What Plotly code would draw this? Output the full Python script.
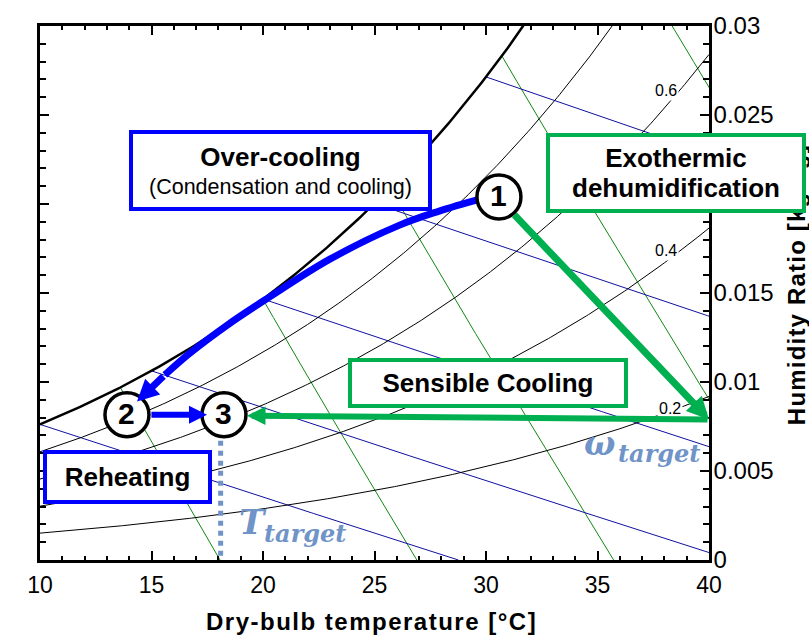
import numpy as np
import plotly.graph_objects as go

# ---------------- data ----------------
P_ATM = 101.325                      # kPa
rh_levels = [0.2, 0.4, 0.6, 0.8]     # relative humidity lines
rh_label_text = ["0.2", "0.4", "0.6"]
wb_levels = [10, 15, 20, 25, 30]     # wet-bulb lines [degC]
v_levels = [0.825, 0.85, 0.875, 0.9, 0.925]  # specific volume lines [m3/kg]

x_tick_vals = [10, 15, 20, 25, 30, 35, 40]
x_tick_text = ["10", "15", "20", "25", "30", "35", "40"]
y_tick_vals = [0, 0.005, 0.01, 0.015, 0.02, 0.025, 0.03]
y_tick_text = ["0", "0.005", "0.01", "0.015", "0.02", "0.025", "0.03"]

state_labels = ["1", "2", "3"]
state_T = [30.58, 13.90, 18.25]
state_W = [0.0204, 0.00816, 0.00816]

overcool_T = [29.8, 27.9, 26.1, 23.0, 20.2, 18.4, 16.7, 15.6]
overcool_W = [0.0203, 0.0196, 0.0188, 0.0169, 0.0147, 0.0132, 0.0116, 0.0104]
overcool_tip = (14.35, 0.0089)

dehum_start = (31.21, 0.01947)
dehum_end = (40.0, 0.0079)
sensible_start = (40.0, 0.00789)
sensible_end = (19.28, 0.00811)
reheat_start = (14.93, 0.00816)
reheat_end = (17.49, 0.00816)

T_target = 18.1
T_target_W = [0.0067, 0.0]

# ---------------- psychrometrics ----------------
def p_sat(T):
    return 0.61094 * np.exp(17.625 * T / (T + 243.04))

def w_from_pv(pv):
    return 0.621945 * pv / (P_ATM - pv)

T_grid = np.linspace(10, 40, 301)

BLUE = "#0000FF"
GREEN = "#00B050"
LBLUE = "#7094C8"
FONT = "Liberation Sans, Arial, sans-serif"
SERIF = "DejaVu Serif, serif"

fig = go.Figure()

# specific volume lines (green)
for v in v_levels:
    w = np.linspace(0, 0.03, 1500)
    T = v * P_ATM / (0.287042 * (1 + 1.6078 * w)) - 273.15
    mask = w <= w_from_pv(p_sat(T))
    fig.add_trace(go.Scatter(x=T[mask], y=w[mask], mode="lines",
                             line=dict(color="#118811", width=1), hoverinfo="skip"))

# wet-bulb lines (blue)
for twb in wb_levels:
    ws = w_from_pv(p_sat(twb))
    t_end = min(40.0, twb + (2501 - 2.326 * twb) * ws / 1.006)
    T = np.linspace(max(twb, 10), t_end, 200)
    w = ((2501 - 2.326 * twb) * ws - 1.006 * (T - twb)) / (2501 + 1.86 * T - 4.186 * twb)
    fig.add_trace(go.Scatter(x=T, y=w, mode="lines",
                             line=dict(color="#1010A0", width=1), hoverinfo="skip"))

# relative humidity lines
for rh in rh_levels:
    fig.add_trace(go.Scatter(x=T_grid, y=w_from_pv(rh * p_sat(T_grid)), mode="lines",
                             line=dict(color="black", width=1), hoverinfo="skip"))
# saturation
fig.add_trace(go.Scatter(x=T_grid, y=w_from_pv(p_sat(T_grid)), mode="lines",
                         line=dict(color="black", width=2.5), hoverinfo="skip"))

# T target dotted line
fig.add_trace(go.Scatter(x=[T_target, T_target], y=T_target_W, mode="lines",
                         line=dict(color=LBLUE, width=5, dash="dot"), hoverinfo="skip"))

# over-cooling curve
fig.add_trace(go.Scatter(x=overcool_T, y=overcool_W, mode="lines",
                         line=dict(color=BLUE, width=7, shape="spline"), hoverinfo="skip"))

def px(x):
    return (x - 40) / 669.0

def py(y):
    return (560 - y) / 544.0

ann = []
# right axis title (drawn first so boxes cover it)
ann.append(dict(x=px(796), y=py(280), xref="paper", yref="paper", showarrow=False,
                text="<b><span style='letter-spacing:1.2px'>Humidity Ratio [kg/kg]</span></b>",
                textangle=-90,
                font=dict(size=24, family=FONT, color="black"),
                xanchor="center", yanchor="middle"))
# x axis title
ann.append(dict(x=px(371), y=py(623), xref="paper", yref="paper", showarrow=False,
                text="<b><span style='letter-spacing:1.5px'>Dry-bulb temperature [°C]</span></b>",
                font=dict(size=24, family=FONT, color="black"),
                xanchor="center", yanchor="middle"))

# RH labels
for txt, (lx, ly) in zip(rh_label_text, [(670, 406), (666, 245), (666, 82)]):
    ann.append(dict(x=px(lx), y=py(ly), xref="paper", yref="paper", showarrow=False,
                    text=txt, font=dict(size=16, family=FONT, color="black"),
                    bgcolor="white", borderpad=1, xanchor="center", yanchor="middle"))

def box(x0, y0, x1, y1, text, color, base):
    bw = 4
    return dict(x=px((x0 + x1) / 2), y=py((y0 + y1) / 2), xref="paper", yref="paper",
                showarrow=False, text=text, width=(x1 - x0) - 2 * bw, height=(y1 - y0) - 2 * bw,
                bgcolor="white", bordercolor=color, borderwidth=bw, borderpad=0,
                font=dict(size=base, family=FONT, color="black"), align="center",
                valign="middle", xanchor="center", yanchor="middle")

ann.append(box(129, 123, 432, 204,
               "<span style='font-size:26px'><b>Over-cooling</b></span><br>(Condensation and cooling)",
               BLUE, 21.5))
ann.append(box(546, 126, 806, 206,
               "<span style='font-size:26px'><b>Exothermic</b></span><br><span style='font-size:26px'><b>dehumidification</b></span>",
               GREEN, 23))
ann.append(box(348, 355, 628, 405, "<b>Sensible Cooling</b>", GREEN, 26))
ann.append(box(43, 448, 212, 502, "<b>Reheating</b>", BLUE, 26))

def arrow(tail, tip, color, width, size):
    return dict(x=tip[0], y=tip[1], ax=tail[0], ay=tail[1], xref="x", yref="y",
                axref="x", ayref="y", showarrow=True, arrowhead=2, arrowsize=size,
                arrowwidth=width, arrowcolor=color, standoff=0, text="")

ann.append(arrow(dehum_start, dehum_end, GREEN, 7, 0.63))
ann.append(arrow(sensible_start, sensible_end, GREEN, 6, 0.62))
ann.append(arrow(reheat_start, reheat_end, BLUE, 6, 0.6))
ann.append(arrow((overcool_T[-1], overcool_W[-1]), overcool_tip, BLUE, 7, 0.62))

# state numbers
for lab, t, w in zip(state_labels, state_T, state_W):
    ann.append(dict(x=t, y=w, xref="x", yref="y", showarrow=False, text="<b>" + lab + "</b>",
                    font=dict(size=30, family=FONT, color="black"),
                    xanchor="center", yanchor="middle", yshift=1))

# target labels
ann.append(dict(x=px(237), y=py(521), xref="paper", yref="paper", showarrow=False,
                text="<b><i>T</i></b>", font=dict(size=34, family=SERIF, color=LBLUE),
                xanchor="left", yanchor="middle"))
ann.append(dict(x=px(262), y=py(533), xref="paper", yref="paper", showarrow=False,
                text="<b><i>target</i></b>", font=dict(size=24, family=SERIF, color=LBLUE),
                xanchor="left", yanchor="middle"))
ann.append(dict(x=px(582), y=py(441), xref="paper", yref="paper", showarrow=False,
                text="<b><i>ω</i></b>", font=dict(size=33, family=SERIF, color=LBLUE),
                xanchor="left", yanchor="middle"))
ann.append(dict(x=px(616), y=py(452), xref="paper", yref="paper", showarrow=False,
                text="<b><i>target</i></b>", font=dict(size=24, family=SERIF, color=LBLUE),
                xanchor="left", yanchor="middle"))

shapes = []
for t, w in zip(state_T, state_W):
    shapes.append(dict(type="circle", xref="x", yref="y", xsizemode="pixel", ysizemode="pixel",
                       xanchor=t, yanchor=w, x0=-22, x1=22, y0=-22, y1=22,
                       line=dict(color="black", width=3.5), fillcolor="white", layer="above"))

fig.update_layout(
    width=809, height=639, margin=dict(l=40, r=100, t=16, b=79),
    plot_bgcolor="white", paper_bgcolor="white", showlegend=False,
    font=dict(family=FONT, color="black"),
    annotations=ann, shapes=shapes,
)
fig.update_xaxes(range=[10, 40], tickmode="array", tickvals=x_tick_vals, ticktext=x_tick_text,
                 ticks="inside", ticklen=9, tickwidth=1.5, tickcolor="black",
                 showline=True, linewidth=2.5, linecolor="black", mirror="allticks",
                 showgrid=False, zeroline=False, tickfont=dict(size=23, family=FONT),
                 ticklabelstandoff=3,
                 minor=dict(dtick=1, tick0=10, ticks="inside", ticklen=4, tickwidth=1.5,
                            tickcolor="black", showgrid=False))
fig.update_yaxes(range=[0, 0.03], side="right", tickmode="array", tickvals=y_tick_vals,
                 ticktext=y_tick_text, ticks="inside", ticklen=9, tickwidth=1.5,
                 tickcolor="black", showline=True, linewidth=2.5, linecolor="black",
                 mirror="allticks", showgrid=False, zeroline=False,
                 tickfont=dict(size=24, family=FONT), ticklabelstandoff=-3,
                 minor=dict(dtick=0.001, tick0=0, ticks="inside", ticklen=6, tickwidth=1.5,
                            tickcolor="black", showgrid=False))

fig.write_html("out.html")
